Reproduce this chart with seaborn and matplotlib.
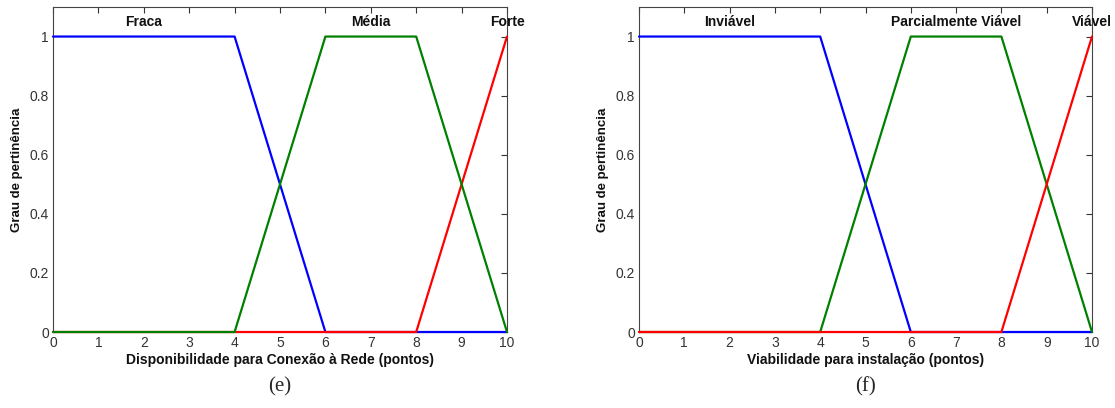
import matplotlib
matplotlib.use("Agg")
import matplotlib.pyplot as plt
import seaborn as sns
import pandas as pd
import numpy as np

sns.set_theme(style="white")
plt.rcParams['font.family'] = ['Liberation Sans', 'DejaVu Sans']

# Data (membership function breakpoints)
x_points = [0, 4, 6, 8, 10]
low_values = [1, 1, 0, 0, 0]
mid_values = [0, 0, 1, 1, 0]
high_values = [0, 0, 0, 0, 1]

labels_e = ["Fraca", "Média", "Forte"]
labels_f = ["Inviável", "Parcialmente Viável", "Viável"]
label_x_pos = [2, 7, 10]
xlabel_e = "Disponibilidade para Conexão à Rede (pontos)"
xlabel_f = "Viabilidade para instalação (pontos)"
ylabel = "Grau de pertinência"
xticks = list(range(0, 11))
yticks = [0, 0.2, 0.4, 0.6, 0.8, 1]

colors = {"low": "#0000ff", "mid": "#008000", "high": "#ff0000"}
series = {"low": low_values, "mid": mid_values, "high": high_values}

W, H = 1115, 408
fig = plt.figure(figsize=(W/100, H/100), dpi=100)
ax_e = fig.add_axes([53/W, 1-332/H, 454/W, 325/H])
ax_f = fig.add_axes([639/W, 1-332/H, 453/W, 325/H])

def draw(ax, order, names, xlabel, caption):
    for key in order:
        df = pd.DataFrame({"x": x_points, "y": series[key]})
        sns.lineplot(data=df, x="x", y="y", ax=ax, color=colors[key],
                     linewidth=1.6, sort=False, estimator=None)
    for ln in ax.lines:
        ln.set_clip_on(False)
        ln.set_zorder(3)
    ax.set_xlim(0, 10)
    ax.set_ylim(0, 1.1)
    ax.set_xticks(xticks)
    ax.set_yticks(yticks)
    ax.set_xticklabels([str(t) for t in xticks])
    ax.set_yticklabels(["0", "0.2", "0.4", "0.6", "0.8", "1"])
    ax.tick_params(direction="in", top=True, right=True, length=4, width=0.8,
                   labelsize=10, colors="#333333", pad=3)
    for s in ax.spines.values():
        s.set_color("#444444")
        s.set_linewidth(0.8)
        s.set_zorder(1)
    ax.set_xlabel(xlabel, fontsize=10, fontweight="bold", labelpad=2, color="#111111")
    ax.set_ylabel(ylabel, fontsize=9.5, fontweight="bold", labelpad=5, color="#111111")
    for name, xp in zip(names, label_x_pos):
        ax.text(xp, 1.05, name, ha="center", va="center", fontsize=10,
                fontweight="bold", clip_on=False, color="#111111")
    ax.text(0.5, -0.14, caption, transform=ax.transAxes, ha="center", va="top",
            fontsize=15, family=["Liberation Serif", "DejaVu Serif"])

draw(ax_e, ["low", "high", "mid"], labels_e, xlabel_e, "(e)")
draw(ax_f, ["low", "mid", "high"], labels_f, xlabel_f, "(f)")

fig.savefig("out.png", dpi=100)
